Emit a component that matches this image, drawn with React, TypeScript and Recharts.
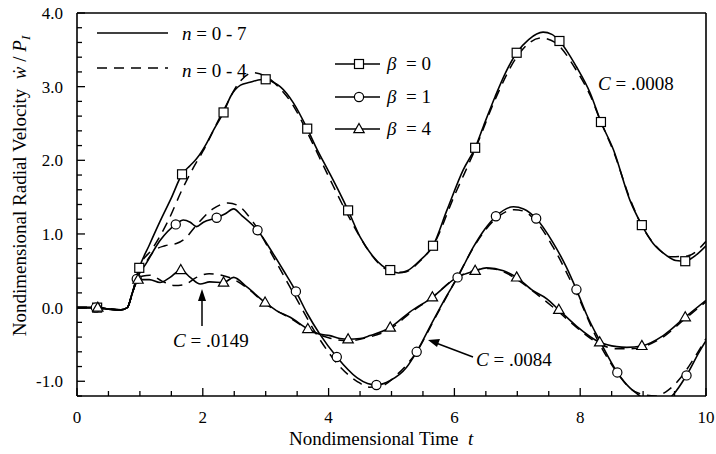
import { ComposedChart, Line, Scatter, XAxis, YAxis } from 'recharts'

// nondimensional time t vs radial velocity; solid n = 0-7, dashed n = 0-4
const X_TICKS = [0, 0.5, 1, 1.5, 2, 2.5, 3, 3.5, 4, 4.5, 5, 5.5, 6, 6.5, 7, 7.5, 8, 8.5, 9, 9.5, 10]
const X_LABELS = [0, 2, 4, 6, 8, 10]
const Y_TICKS = [
  -1.2, -1, -0.8, -0.6, -0.4, -0.2, 0, 0.2, 0.4, 0.6, 0.8, 1, 1.2, 1.4, 1.6, 1.8, 2, 2.2, 2.4,
  2.6, 2.8, 3, 3.2, 3.4, 3.6, 3.8, 4,
]
const Y_LABELS = [-1, 0, 1, 2, 3, 4]

type Pt = [number, number]

// beta = 0
const beta0Solid: Pt[] = [
  [0, 0], [0.15, 0], [0.5, -0.02], [0.7, -0.03], [0.8, 0], [0.88, 0.2],
  [1.15, 0.85], [1.32, 1.17], [1.5, 1.49], [1.8, 1.93], [1.9, 2.02], [2.06, 2.23], [2.17, 2.41],
  [2.45, 2.88], [2.6, 3.02], [2.75, 3.06], [2.88, 3.09], [3.12, 3.06], [3.23, 3.0], [3.44, 2.78],
  [3.81, 2.16], [4.0, 1.85], [4.18, 1.55], [4.5, 0.96], [4.71, 0.69], [4.85, 0.57],
  [5.11, 0.47], [5.25, 0.5], [5.45, 0.64], [5.88, 1.32], [6.14, 1.87], [6.46, 2.46], [6.65, 2.87],
  [6.82, 3.2], [7.18, 3.64], [7.41, 3.74], [7.55, 3.71], [7.94, 3.27], [8.16, 2.91],
  [8.53, 2.14], [8.79, 1.46], [9.16, 0.87], [9.37, 0.71], [9.52, 0.64], [9.82, 0.7], [10, 0.84],
]
const beta0Marks: Pt[] = [
  [0.32, 0], [0.99, 0.54], [1.67, 1.81], [2.33, 2.65], [3.0, 3.1], [3.66, 2.43], [4.31, 1.32],
  [4.98, 0.51], [5.66, 0.84], [6.33, 2.17], [6.99, 3.46], [7.67, 3.62], [8.33, 2.52], [8.98, 1.12],
  [9.67, 0.63],
]
const beta0Dashed: Pt[] = [
  [0, 0], [0.3, 0], [0.5, -0.02], [0.7, -0.03], [0.8, 0], [0.88, 0.2], [0.99, 0.54], [1.2, 0.8],
  [1.45, 1.18], [1.67, 1.6], [1.85, 1.9], [2.0, 2.12], [2.33, 2.68], [2.6, 3.08], [2.8, 3.19],
  [3.0, 3.14], [3.2, 3.0], [3.44, 2.74], [3.66, 2.38], [4.0, 1.78], [4.31, 1.25], [4.6, 0.82],
  [4.82, 0.58], [5.0, 0.49], [5.2, 0.48], [5.45, 0.63], [5.66, 0.84], [6.0, 1.52], [6.33, 2.15],
  [6.65, 2.83], [6.99, 3.4], [7.2, 3.6], [7.38, 3.66], [7.6, 3.6], [7.94, 3.22], [8.16, 2.88],
  [8.33, 2.52], [8.53, 2.12], [8.79, 1.48], [9.0, 1.08], [9.2, 0.84], [9.45, 0.69], [9.7, 0.7],
  [10, 0.9],
]

// beta = 1
const beta1Solid: Pt[] = [
  [0, 0], [0.15, 0], [0.5, -0.02], [0.7, -0.03], [0.8, 0], [0.88, 0.2],
  [1.1, 0.6], [1.32, 0.91], [1.69, 1.19], [1.8, 1.16], [1.9, 1.1], [2.01, 1.16],
  [2.35, 1.27], [2.49, 1.34], [2.62, 1.25], [3.12, 0.73], [3.3, 0.48], [3.66, -0.08], [3.86, -0.36],
  [4.45, -0.95], [4.62, -1.03], [4.98, -0.99], [5.24, -0.81], [5.66, -0.18], [5.85, 0.12],
  [6.3, 0.82], [6.48, 1.06], [6.94, 1.37], [7.1, 1.34], [7.57, 0.88], [7.78, 0.55],
  [8.1, -0.09], [8.31, -0.45], [8.79, -1.09], [8.92, -1.18], [9.05, -1.27], [9.2, -1.31],
  [9.35, -1.27], [9.48, -1.18], [9.9, -0.59], [10, -0.45],
]
const beta1Marks: Pt[] = [
  [0.3, 0], [0.95, 0.39], [1.57, 1.13], [2.22, 1.22], [2.87, 1.05], [3.48, 0.22], [4.13, -0.67],
  [4.76, -1.05], [5.4, -0.6], [6.05, 0.41], [6.66, 1.24], [7.3, 1.21], [7.94, 0.245],
  [8.59, -0.88], [9.69, -0.92],
]
const beta1Dashed: Pt[] = [
  [0, 0], [0.3, 0], [0.5, -0.02], [0.7, -0.03], [0.8, 0], [0.88, 0.2], [0.97, 0.42], [1.1, 0.62],
  [1.24, 0.78], [1.4, 0.84], [1.58, 0.87], [1.72, 0.94], [1.9, 1.12], [2.16, 1.34], [2.4, 1.42],
  [2.55, 1.39], [2.8, 1.16], [3.1, 0.72], [3.45, 0.18], [3.85, -0.42], [4.2, -0.82], [4.45, -1.0],
  [4.65, -1.08], [4.85, -1.06], [5.1, -0.9], [5.4, -0.6], [5.7, -0.13], [6.05, 0.42], [6.35, 0.88],
  [6.66, 1.21], [6.95, 1.33], [7.1, 1.31], [7.3, 1.17], [7.57, 0.82], [7.94, 0.2], [8.3, -0.48],
  [8.6, -0.9], [8.8, -1.1], [9.0, -1.18], [9.2, -1.2], [9.4, -1.12], [9.6, -0.95], [9.8, -0.7],
  [10, -0.42],
]

// beta = 4
const beta4Solid: Pt[] = [
  [0, 0], [0.15, 0], [0.5, -0.02], [0.7, -0.03], [0.8, 0], [0.88, 0.2],
  [1.15, 0.38], [1.32, 0.34], [1.48, 0.41], [1.8, 0.41], [1.96, 0.32], [2.11, 0.35],
  [2.49, 0.41], [2.7, 0.28], [3.17, -0.04], [3.39, -0.13], [3.86, -0.36], [4.02, -0.38],
  [4.18, -0.42], [4.5, -0.42], [4.66, -0.38], [5.29, -0.06], [6.04, 0.41], [6.51, 0.54],
  [6.78, 0.5], [7.25, 0.23], [7.47, 0.12], [7.94, -0.25], [8.58, -0.53], [8.74, -0.54],
  [9.32, -0.38], [10, 0.1],
]
const beta4Marks: Pt[] = [
  [0.33, 0], [0.97, 0.38], [1.65, 0.51], [2.33, 0.34], [2.99, 0.07], [3.67, -0.29], [4.31, -0.43],
  [4.98, -0.27], [5.65, 0.14], [6.33, 0.5], [6.99, 0.41], [7.66, -0.03], [8.31, -0.47],
  [8.98, -0.52], [9.67, -0.13],
]
const beta4Dashed: Pt[] = [
  [0, 0], [0.3, 0], [0.5, -0.02], [0.7, -0.03], [0.8, 0], [0.88, 0.2], [0.97, 0.38], [1.05, 0.43],
  [1.16, 0.44], [1.35, 0.36], [1.55, 0.3], [1.7, 0.31], [1.9, 0.41], [2.1, 0.46], [2.3, 0.44],
  [2.5, 0.38], [2.7, 0.27], [3.0, 0.05], [3.4, -0.15], [3.7, -0.31], [4.0, -0.41], [4.3, -0.45],
  [4.6, -0.41], [5.0, -0.28], [5.3, -0.07], [5.65, 0.14], [6.0, 0.39], [6.3, 0.5], [6.55, 0.53],
  [6.8, 0.48], [7.0, 0.38], [7.3, 0.19], [7.66, -0.06], [8.0, -0.31], [8.3, -0.49], [8.6, -0.56],
  [8.8, -0.56], [9.0, -0.53], [9.3, -0.41], [9.67, -0.15], [10, 0.08],
]

const W = 716
const H = 454
const FONT = '"Liberation Serif", "Times New Roman", serif'
const INK = '#000'

const rows = (pts: Pt[]) => pts.map(([t, y]) => ({ t, y }))
const withMarks = (curve: Pt[], marks: Pt[]) =>
  rows([...curve, ...marks].sort((a, b) => a[0] - b[0]))

const isIn = (list: number[], v: number) => list.some((l) => Math.abs(l - v) < 1e-6)

function makeTick(side: 'bottom' | 'top' | 'left' | 'right', majors: number[], labels: number[]) {
  return (props: any) => {
    const { x, y, payload } = props
    const v = payload.value as number
    const len = isIn(majors, v) ? 8 : 5
    const showLabel = isIn(labels, v)
    if (side === 'bottom') {
      return (
        <g>
          <line x1={x} x2={x} y1={y} y2={y - len} stroke={INK} strokeWidth={1.3} />
          {showLabel && (
            <text x={x} y={y + 27} textAnchor="middle" fontFamily={FONT} fontSize={17} fill={INK}>
              {String(v)}
            </text>
          )}
        </g>
      )
    }
    if (side === 'top') {
      return <line x1={x} x2={x} y1={y} y2={y + len} stroke={INK} strokeWidth={1.3} />
    }
    if (side === 'left') {
      return (
        <g>
          <line x1={x} x2={x + len} y1={y} y2={y} stroke={INK} strokeWidth={1.3} />
          {showLabel && (
            <text x={x - 14} y={y + 6} textAnchor="end" fontFamily={FONT} fontSize={17} fill={INK}>
              {v.toFixed(1)}
            </text>
          )}
        </g>
      )
    }
    return <line x1={x} x2={x - len} y1={y} y2={y} stroke={INK} strokeWidth={1.3} />
  }
}

const SquareMark = (p: any) => (
  <rect x={p.cx - 4.5} y={p.cy - 4.5} width={9} height={9} fill="#fff" stroke={INK} strokeWidth={1.2} />
)
const CircleMark = (p: any) => (
  <circle cx={p.cx} cy={p.cy} r={4.6} fill="#fff" stroke={INK} strokeWidth={1.2} />
)
const TriangleMark = (p: any) => (
  <polygon
    points={`${p.cx},${p.cy - 5.5} ${p.cx + 5.2},${p.cy + 3.6} ${p.cx - 5.2},${p.cy + 3.6}`}
    fill="#fff"
    stroke={INK}
    strokeWidth={1.2}
  />
)

const SERIES = [
  { key: 'b0', solid: beta0Solid, marks: beta0Marks, dashed: beta0Dashed, shape: SquareMark },
  { key: 'b1', solid: beta1Solid, marks: beta1Marks, dashed: beta1Dashed, shape: CircleMark },
  { key: 'b4', solid: beta4Solid, marks: beta4Marks, dashed: beta4Dashed, shape: TriangleMark },
]

function Overlay() {
  const legendRows = [
    { y: 64, label: '0', shape: 'sq' },
    { y: 97, label: '1', shape: 'ci' },
    { y: 129, label: '4', shape: 'tr' },
  ]
  return (
    <svg
      width={W}
      height={H}
      style={{ position: 'absolute', left: 0, top: 0, pointerEvents: 'none' }}
      fontFamily={FONT}
      fill={INK}
    >
      {/* n legend */}
      <line x1={97} x2={168} y1={33} y2={33} stroke={INK} strokeWidth={1.6} />
      <text x={182} y={40} fontSize={19} style={{ whiteSpace: 'pre' }}>
        <tspan fontStyle="italic">n</tspan>
        {' = 0 - 7'}
      </text>
      <line x1={97} x2={168} y1={68} y2={68} stroke={INK} strokeWidth={1.6} strokeDasharray="10 7" />
      <text x={182} y={77} fontSize={19} style={{ whiteSpace: 'pre' }}>
        <tspan fontStyle="italic">n</tspan>
        {' = 0 - 4'}
      </text>

      {/* beta legend */}
      {legendRows.map((r) => (
        <g key={r.label}>
          <line x1={335} x2={380} y1={r.y} y2={r.y} stroke={INK} strokeWidth={1.4} />
          {r.shape === 'sq' && SquareMark({ cx: 359, cy: r.y })}
          {r.shape === 'ci' && CircleMark({ cx: 359, cy: r.y })}
          {r.shape === 'tr' && TriangleMark({ cx: 359, cy: r.y })}
          <text x={387} y={r.y + 6} fontSize={19} style={{ whiteSpace: 'pre' }}>
            <tspan fontStyle="italic">β</tspan>
            {'  = '}
            {r.label}
          </text>
        </g>
      ))}

      {/* annotations */}
      <text x={598} y={90} fontSize={19} style={{ whiteSpace: 'pre' }}>
        <tspan fontStyle="italic">C</tspan>
        {' = .0008'}
      </text>
      <text x={173} y={347} fontSize={19} style={{ whiteSpace: 'pre' }}>
        <tspan fontStyle="italic">C</tspan>
        {' = .0149'}
      </text>
      <line x1={202} x2={202} y1={326} y2={298} stroke={INK} strokeWidth={1.5} />
      <polygon points="202,289 198,301 206,301" fill={INK} />
      <text x={476} y={366} fontSize={19} style={{ whiteSpace: 'pre' }}>
        <tspan fontStyle="italic">C</tspan>
        {' = .0084'}
      </text>
      <line x1={473} x2={436} y1={357} y2={343} stroke={INK} strokeWidth={1.5} />
      <polygon points="428,340 440,339 437,347" fill={INK} />

      {/* axis titles */}
      <text x={289} y={445} fontSize={19} style={{ whiteSpace: 'pre' }}>
        {'Nondimensional Time  '}
        <tspan fontStyle="italic">t</tspan>
      </text>
      <text
        x={0}
        y={0}
        fontSize={19}
        textAnchor="middle"
        transform="translate(26, 186) rotate(-90)"
        style={{ whiteSpace: 'pre' }}
      >
        {'Nondimensional Radial Velocity  '}
        <tspan fontStyle="italic">ẇ</tspan>
        {' / '}
        <tspan fontStyle="italic">P</tspan>
        <tspan fontSize={13} dy={4} fontStyle="italic">I</tspan>
      </text>
    </svg>
  )
}

const axisLine = { stroke: INK, strokeWidth: 1.6 }

export default function App() {
  return (
    <div style={{ position: 'absolute', left: 0, top: 0, width: W, height: H, background: '#fff' }}>
      <ComposedChart width={W} height={H} margin={{ top: 0, right: 0, bottom: 8, left: 0 }}>
        <XAxis
          xAxisId="b"
          dataKey="t"
          type="number"
          domain={[0, 10]}
          ticks={X_TICKS}
          interval={0}
          height={50}
          tickSize={0}
          tickMargin={0}
          tickLine={false}
          axisLine={axisLine}
          tick={makeTick('bottom', X_LABELS, X_LABELS)}
          allowDataOverflow
        />
        <XAxis
          xAxisId="top"
          orientation="top"
          dataKey="t"
          type="number"
          domain={[0, 10]}
          ticks={X_TICKS}
          interval={0}
          height={13}
          tickSize={0}
          tickMargin={0}
          tickLine={false}
          axisLine={axisLine}
          tick={makeTick('top', X_LABELS, [])}
        />
        <YAxis
          yAxisId="l"
          type="number"
          domain={[-1.2, 4]}
          ticks={Y_TICKS}
          interval={0}
          width={77}
          tickSize={0}
          tickMargin={0}
          tickLine={false}
          axisLine={axisLine}
          tick={makeTick('left', Y_LABELS, Y_LABELS)}
          allowDataOverflow
        />
        <YAxis
          yAxisId="r"
          orientation="right"
          type="number"
          domain={[-1.2, 4]}
          ticks={Y_TICKS}
          interval={0}
          width={10}
          tickSize={0}
          tickMargin={0}
          tickLine={false}
          axisLine={axisLine}
          tick={makeTick('right', Y_LABELS, [])}
        />
        {SERIES.map((s) => (
          <Line
            key={`${s.key}-dash`}
            xAxisId="b"
            yAxisId="l"
            data={rows(s.dashed)}
            dataKey="y"
            type="monotone"
            stroke={INK}
            strokeWidth={1.5}
            strokeDasharray="10 7"
            dot={false}
            activeDot={false}
            isAnimationActive={false}
          />
        ))}
        {SERIES.map((s) => (
          <Line
            key={`${s.key}-solid`}
            xAxisId="b"
            yAxisId="l"
            data={withMarks(s.solid, s.marks)}
            dataKey="y"
            type="monotone"
            stroke={INK}
            strokeWidth={1.6}
            dot={false}
            activeDot={false}
            isAnimationActive={false}
          />
        ))}
        {SERIES.map((s) => (
          <Scatter
            key={`${s.key}-marks`}
            xAxisId="b"
            yAxisId="l"
            data={rows(s.marks)}
            dataKey="y"
            shape={s.shape}
            isAnimationActive={false}
          />
        ))}
      </ComposedChart>
      <Overlay />
    </div>
  )
}
